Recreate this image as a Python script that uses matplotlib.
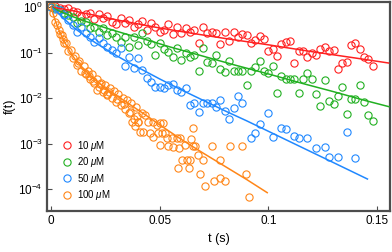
import matplotlib
matplotlib.use("Agg")
import matplotlib.pyplot as plt
from matplotlib.ticker import LogFormatterMathtext, NullLocator
import numpy as np

plt.rcParams["font.family"] = ["Liberation Sans", "DejaVu Sans"]
plt.rcParams["mathtext.fontset"] = "custom"
plt.rcParams["mathtext.rm"] = "Liberation Sans"
plt.rcParams["mathtext.it"] = "Liberation Sans:italic"

nan = np.nan
dt = 0.002  # sampling step of the red / green / blue curves (s)

# log10 f(t), one value per time step
red_log = [0.0, 0.02, -0.02, -0.05, -0.03, -0.08, -0.11, -0.20, -0.16, -0.12,
           -0.27, -0.15, -0.24, -0.20, -0.33, -0.38, -0.25, -0.35, -0.28, -0.43,
           -0.38, -0.30, -0.50, -0.36, -0.44, -0.54, -0.50, -0.38, -0.60, -0.44,
           -0.57, -0.47,
           -0.55, -0.51, -0.79, -0.44, -0.57, -0.55, -0.57, -0.81, -0.55, -0.75,
           -0.55, -0.66, -0.59, -0.62, -0.79, -0.73, -0.64, -0.70, -0.97, -0.92,
           -1.08, -0.81, -0.77, -0.75, -1.23, -0.97, -0.97, -1.10, -1.01, -1.05,
           -0.92, -0.88, -0.97, -0.95, -1.36, -1.23, -1.21, -0.84, -0.79, -0.92,
           -1.10, -1.14, -1.30]

green_log = [0.0, -0.02, -0.07, -0.12, -0.18, -0.22, -0.35, -0.30, -0.33, -0.46,
             -0.44, -0.55, -0.47, -0.62, -0.57, -0.66, -0.77, -0.66, -0.88, -0.66,
             -0.84, -0.57, -0.75, -0.82, -1.05, -0.79, -0.93, -0.99, -1.10, -0.90,
             -1.16, -1.01,
             -1.10, -1.05, -1.41, -0.90, -1.21, -1.23, -1.05, -1.36, -1.43, -1.19,
             -1.41, -1.41, -1.41, -1.71, -1.41, -1.32, -1.19, -1.41, -1.45, -1.30,
             -1.89, -1.52, -1.58, -1.58, -1.58, -1.89, -1.58, -1.45, -1.58, -1.91,
             -2.18, -1.60, -2.07, -2.13, -1.95, -1.76, -2.35, -2.02, -2.02, -1.71,
             -2.09, -2.37, -2.51]

blue_log = [0.0, -0.05, -0.07, -0.18, -0.29, -0.40, -0.55, -0.44, -0.57, -0.66,
            -0.77, -0.68, -0.79, -0.88, -0.95, -1.00, -0.90, -1.29, -1.10, -1.33,
            -1.12, -1.38, -1.55,
            -1.65, -1.76, -1.76, -1.78, -1.71, -1.69, -1.82, -1.87, -1.78, -2.15,
            -2.11, -2.31, -2.11, -2.11, -2.11, -2.20, -2.04, -2.29, -2.46, -2.22,
            -1.95, -2.11, nan, -2.88, -2.77, -2.57, nan, -2.33, -2.86, nan,
            -2.66, -2.68, nan, -2.84, -2.88, nan, -2.88, nan, -3.10, nan,
            -3.08, -3.30, nan, -3.30, nan, -2.75, nan, -3.32]

orange_t = [0.000, 0.001, 0.002, 0.003, 0.004, 0.005, 0.006, 0.007, 0.008, 0.009,
            0.010, 0.011, 0.012, 0.013, 0.014, 0.015, 0.016, 0.017, 0.018, 0.019,
            0.020, 0.021, 0.022, 0.023, 0.024, 0.025, 0.026, 0.027, 0.028, 0.029,
            0.030, 0.031, 0.032, 0.033, 0.034, 0.035, 0.036, 0.037, 0.038, 0.039,
            0.040,
            0.0035, 0.0055, 0.0125, 0.0155, 0.0175, 0.0195, 0.0212, 0.0225, 0.0245,
            0.0258, 0.0265, 0.0305, 0.0335, 0.0365, 0.0373, 0.0385, 0.0395, 0.0401,
            0.0410,
            0.0419, 0.0433, 0.0447, 0.0470, 0.0488, 0.0502, 0.0516, 0.0424, 0.0456,
            0.0470, 0.0493, 0.0512, 0.0525, 0.0502, 0.0535, 0.0558, 0.0581, 0.0594,
            0.0539, 0.0562, 0.0590, 0.0618, 0.0645, 0.0654, 0.0654, 0.0664, 0.0677,
            0.0700, 0.0742, 0.0779, 0.0825, 0.0880, 0.0604, 0.0627, 0.0641, 0.0585,
            0.0636, 0.0687, 0.0710, 0.0751, 0.0779, 0.0802, 0.0899, 0.0912]
orange_log = [0.02, -0.12, -0.33, -0.40, -0.60, -0.62, -0.80, -0.78, -0.97, -0.95,
              -1.13, -1.08, -1.27, -1.18, -1.40, -1.30, -1.47, -1.40, -1.58, -1.48,
              -1.68, -1.58, -1.75, -1.66, -1.86, -1.72, -1.92, -1.79, -2.00, -1.85,
              -2.08, -1.92, -2.15, -2.00, -2.25, -2.05, -2.33, -2.12, -2.45, -2.20,
              -2.53,
              -0.50, -0.70, -1.22, -1.45, -1.52, -1.62, -1.82, -1.70, -1.82,
              -1.93, -1.86, -2.02, -2.14, -2.30, -2.53, -2.62, -2.40, -2.53,
              -2.75,
              -2.33, -2.37, -2.53, -2.53, -2.59, -2.55, -2.55, -2.75, -2.77,
              -2.86, -2.77, -2.77, -2.77, -3.03, -2.88, -2.88, -2.88, -2.88,
              -3.05, -3.08, -3.10, -3.03, -2.90, -2.66, -3.05, -3.05, -3.25,
              -3.36, -3.05, -3.36, -3.05, -3.05, -3.36, -3.36, -3.36, -3.54,
              -3.54, -3.67, -3.93, -3.82, -3.76, -3.82, -3.67, -4.18]

# fitted curves (log10 f)
red_fit_t = [0, 0.01, 0.02, 0.03, 0.04, 0.05, 0.064, 0.08, 0.1, 0.12, 0.14, 0.1553]
red_fit_log = [0, -0.08, -0.18, -0.28, -0.37, -0.46, -0.57, -0.69, -0.83, -0.98, -1.12, -1.23]
green_fit_t = [0, 0.005, 0.01, 0.0157, 0.022, 0.028, 0.035, 0.0433, 0.055, 0.07,
               0.085, 0.1, 0.115, 0.13, 0.145, 0.1555]
green_fit_log = [0, -0.11, -0.21, -0.31, -0.41, -0.50, -0.60, -0.71, -0.88, -1.08,
                 -1.28, -1.47, -1.67, -1.86, -2.06, -2.19]
blue_fit_t = [0, 0.003, 0.007, 0.011, 0.015, 0.0203, 0.025, 0.0295, 0.035, 0.0433,
              0.05, 0.06, 0.07, 0.08, 0.09, 0.1, 0.11, 0.12, 0.13, 0.1456]
blue_fit_log = [0, -0.12, -0.30, -0.47, -0.61, -0.78, -0.92, -1.05, -1.20, -1.41,
                -1.58, -1.82, -2.05, -2.28, -2.50, -2.73, -2.96, -3.19, -3.42, -3.78]
orange_fit_t = [0, 0.002, 0.004, 0.0065, 0.009, 0.011, 0.0135, 0.0157, 0.018, 0.0203,
                0.025, 0.03, 0.035, 0.04, 0.045, 0.05, 0.06, 0.07, 0.08, 0.09, 0.0995]
orange_fit_log = [0, -0.30, -0.55, -0.79, -1.00, -1.14, -1.28, -1.39, -1.50, -1.60,
                  -1.78, -1.94, -2.10, -2.26, -2.42, -2.59, -2.91, -3.21, -3.50, -3.79, -4.08]

labels = [r"10 $\mu$M", r"20 $\mu$M", r"50 $\mu$M", r"100 $\mu$M"]
colors = ["#ff2020", "#22b022", "#2088ff", "#ff8618"]

series = [
    (np.arange(len(red_log)) * dt, red_log, red_fit_t, red_fit_log),
    (np.arange(len(green_log)) * dt, green_log, green_fit_t, green_fit_log),
    (np.arange(len(blue_log)) * dt, blue_log, blue_fit_t, blue_fit_log),
    (orange_t, orange_log, orange_fit_t, orange_fit_log),
]

fig = plt.figure(figsize=(3.92, 2.52), dpi=100)
ax = fig.add_axes([0.12, 0.163, 0.875, 0.829])

for (t, lg, ft, flg), col, lab in zip(series, colors, labels):
    ax.plot(t, 10 ** np.asarray(lg), "o", mfc="none", mec=col, ms=5.2,
            mew=0.8, label=lab, zorder=2)
    ax.plot(ft, 10 ** np.asarray(flg), "-", color=col, lw=1.1, zorder=3)

ax.set_yscale("log")
ax.set_xlim(-0.0018, 0.156)
ax.set_ylim(3.3e-5, 1.29)
ax.set_xticks([0, 0.05, 0.1, 0.15])
ax.set_xticklabels(["0", "0.05", "0.1", "0.15"])
ax.set_yticks([1e-4, 1e-3, 1e-2, 1e-1, 1])
ax.yaxis.set_major_formatter(LogFormatterMathtext())
ax.yaxis.set_minor_locator(NullLocator())

ax.tick_params(direction="in", length=3.5, width=0.8, color="#4d4d4d",
               labelsize=8.5, pad=3)
for sp in ax.spines.values():
    sp.set_linewidth(1.6)
    sp.set_color("#4d4d4d")

ax.set_xlabel("t (s)", fontsize=9, labelpad=4)
ax.set_ylabel("f(t)", fontsize=9, labelpad=2)

ax.legend(loc="lower left", bbox_to_anchor=(0.025, 0.01), frameon=False,
          fontsize=7, handlelength=1.0, handletextpad=0.5,
          labelspacing=0.25, borderaxespad=0.3)

fig.savefig("out.png", dpi=100)
